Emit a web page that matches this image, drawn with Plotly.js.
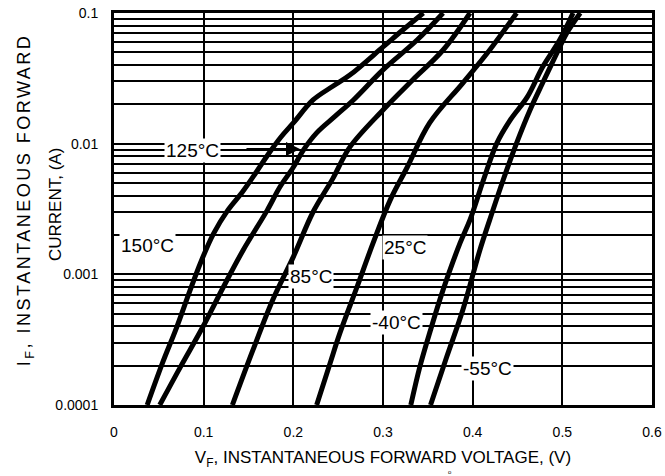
<!DOCTYPE html>
<html>
<head>
<meta charset="utf-8">
<script src="https://cdn.plot.ly/plotly-3.0.1.min.js"></script>
<style>html,body{margin:0;padding:0;background:#fff;}#chart{width:665px;height:476px;}</style>
</head>
<body>
<div id="chart"></div>
<script>
// Forward voltage (V) and forward current (A) per junction temperature
const seriesNames = ["150°C", "125°C", "85°C", "25°C", "-40°C", "-55°C"];

const vf150 = [0.037, 0.054, 0.070, 0.085, 0.097, 0.111, 0.127, 0.143, 0.158, 0.172, 0.186, 0.200, 0.222, 0.244, 0.263, 0.300, 0.322, 0.345];
const if150 = [1e-4, 2.09e-4, 3.95e-4, 7.6e-4, 1.25e-3, 2.05e-3, 3.1e-3, 4.25e-3, 5.96e-3, 8.3e-3, 0.0112, 0.0144, 0.0216, 0.0275, 0.0335, 0.055, 0.0741, 0.1];

const vf125 = [0.051, 0.074, 0.099, 0.122, 0.144, 0.171, 0.185, 0.200, 0.211, 0.226, 0.247, 0.267, 0.300, 0.338, 0.367];
const if125 = [1e-4, 1.95e-4, 3.95e-4, 8.0e-4, 1.53e-3, 3.1e-3, 4.66e-3, 6.6e-3, 8.9e-3, 0.0121, 0.0163, 0.0216, 0.0367, 0.0621, 0.1];

const vf85 = [0.132, 0.155, 0.177, 0.200, 0.222, 0.244, 0.263, 0.300, 0.333, 0.367, 0.397];
const if85 = [1e-4, 2.64e-4, 6.37e-4, 1.36e-3, 3.0e-3, 5.4e-3, 9.4e-3, 0.0181, 0.0307, 0.0521, 0.1];

const vf25 = [0.226, 0.241, 0.252, 0.271, 0.289, 0.308, 0.327, 0.352, 0.389, 0.419, 0.449];
const if25 = [1e-4, 2.09e-4, 3.56e-4, 8.0e-4, 1.74e-3, 3.7e-3, 6.6e-3, 0.0144, 0.0291, 0.0521, 0.1];

const vfm40 = [0.331, 0.341, 0.352, 0.367, 0.386, 0.397, 0.412, 0.427, 0.442, 0.461, 0.478, 0.497, 0.512];
const ifm40 = [1e-4, 1.95e-4, 3.56e-4, 7.6e-4, 1.74e-3, 2.61e-3, 5.27e-3, 0.0101, 0.0152, 0.0228, 0.0386, 0.0621, 0.1];

const vfm55 = [0.353, 0.371, 0.389, 0.408, 0.419, 0.434, 0.449, 0.464, 0.478, 0.494, 0.505, 0.520];
const ifm55 = [1e-4, 2.33e-4, 5.33e-4, 1.53e-3, 2.61e-3, 5.27e-3, 0.0101, 0.0181, 0.0291, 0.0494, 0.0703, 0.1];

const xTickVals = [0, 0.1, 0.2, 0.3, 0.4, 0.5, 0.6];
const xTickText = ["0", "0.1", "0.2", "0.3", "0.4", "0.5", "0.6"];
const yDecades = [0.0001, 0.001, 0.01, 0.1];
const yDecadeText = ["0.0001", "0.001", "0.01", "0.1"];
const yMinorMultipliers = [2, 3, 4, 5, 6, 7, 8, 9];

// minor log-grid positions built from the decades and multipliers
const yMinorVals = [];
yDecades.slice(0, -1).forEach(d => yMinorMultipliers.forEach(m => yMinorVals.push(d * m)));

const xs = [vf150, vf125, vf85, vf25, vfm40, vfm55];
const ys = [if150, if125, if85, if25, ifm40, ifm55];

const traces = xs.map((x, k) => ({
  x: x, y: ys[k], name: seriesNames[k], type: "scatter", mode: "lines",
  line: {color: "#000", width: 5, shape: "spline", smoothing: 1},
  hoverinfo: "skip", showlegend: false
}));

const FONT = "Arial, 'Liberation Sans', sans-serif";
const lblFont = {family: FONT, size: 19, color: "#000"};

function label(text, x, y) {
  return {text: text, x: x, y: y, xref: "x", yref: "y", showarrow: false,
    font: lblFont, bgcolor: "#fff", borderpad: 1, xanchor: "center", yanchor: "middle"};
}

const annotations = [
  label(seriesNames[0], 0.037, -2.776),
  label(seriesNames[1], 0.088, -2.049),
  label(seriesNames[2], 0.220, -3.020),
  label(seriesNames[3], 0.3245, -2.798),
  label(seriesNames[4], 0.3156, -3.372),
  label(seriesNames[5], 0.417, -3.717),
  {text: " ", x: 0.2074, y: -2.041, xref: "x", yref: "y", showarrow: true,
   ax: -57, ay: 0, arrowhead: 2, arrowsize: 1.4, arrowwidth: 2, arrowcolor: "#000", standoff: 0},
  {text: "I<sub>F</sub>, INSTANTANEOUS FORWARD", xref: "paper", yref: "paper",
   x: (25 - 114) / 538, y: (405 - 200) / 392, textangle: -90, showarrow: false,
   font: {family: FONT, size: 18, color: "#000"}, xanchor: "center", yanchor: "middle"},
  {text: "CURRENT, (A)", xref: "paper", yref: "paper",
   x: (55 - 114) / 538, y: (405 - 205) / 392, textangle: -90, showarrow: false,
   font: {family: FONT, size: 17, color: "#000"}, xanchor: "center", yanchor: "middle"},
  {text: "o", xref: "paper", yref: "paper", x: (450 - 114) / 538, y: (405 - 472) / 392,
   showarrow: false, font: {family: FONT, size: 6, color: "#000"}, xanchor: "center", yanchor: "middle"}
];

const layout = {
  width: 665, height: 476,
  margin: {l: 114, r: 13, t: 13, b: 71, pad: 0},
  paper_bgcolor: "#fff", plot_bgcolor: "#fff",
  font: {family: FONT, size: 14, color: "#000"},
  xaxis: {
    range: [0, 0.6], tickvals: xTickVals, ticktext: xTickText,
    showgrid: true, gridcolor: "#000", gridwidth: 2,
    showline: true, mirror: true, linecolor: "#000", linewidth: 3,
    zeroline: false, ticks: "", ticklabelstandoff: 12,
    tickfont: {family: FONT, size: 14, color: "#000"},
    title: {text: "V<sub>F</sub>, INSTANTANEOUS FORWARD VOLTAGE, (V)", standoff: 13,
      font: {family: FONT, size: 17, color: "#000"}}
  },
  yaxis: {
    type: "log", range: [-4, -1], tickvals: yDecades, ticktext: yDecadeText,
    showgrid: true, gridcolor: "#000", gridwidth: 2,
    minor: {tickvals: yMinorVals, showgrid: true, gridcolor: "#000", gridwidth: 2, ticks: ""},
    showline: true, mirror: true, linecolor: "#000", linewidth: 3,
    zeroline: false, ticks: "", ticklabelstandoff: 10,
    tickfont: {family: FONT, size: 14, color: "#000"}
  },
  annotations: annotations,
  showlegend: false
};

Plotly.newPlot("chart", traces, layout, {staticPlot: true, displayModeBar: false}).then(() => {
  // the reference sets the first y-title line with wide letter spacing
  document.querySelectorAll("#chart .annotation-text").forEach(t => {
    if (t.textContent.indexOf("INSTANTANEOUS FORWARD") >= 0) {
      t.style.letterSpacing = "2.5px";
    }
  });
});
</script>
</body>
</html>
